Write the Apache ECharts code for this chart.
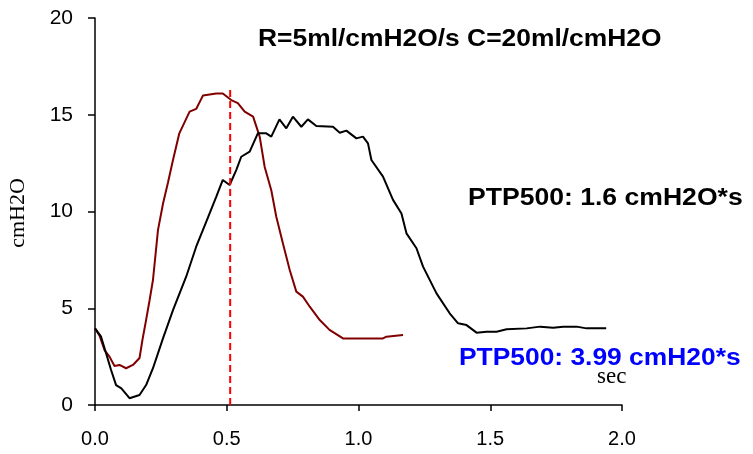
<!DOCTYPE html>
<html>
<head>
<meta charset="utf-8">
<script src="https://cdn.jsdelivr.net/npm/echarts@6/dist/echarts.min.js"></script>
<style>
html,body{margin:0;padding:0;background:#fff;}
#chart{width:753px;height:454px;}
</style>
</head>
<body>
<div id="chart"></div>
<script>
// pressure curves (sec, cmH2O)
var redTime=[0,0.017,0.036,0.055,0.074,0.093,0.118,0.144,0.169,0.18,0.194,0.207,0.22,0.239,0.258,0.277,0.296,0.32,0.359,0.384,0.41,0.46,0.485,0.517,0.542,0.568,0.6,0.625,0.644,0.669,0.688,0.713,0.739,0.764,0.789,0.815,0.853,0.89,0.941,1.005,1.093,1.106,1.169];
var redVal=[3.96,3.6,2.84,2.5,2.02,2.07,1.9,2.07,2.43,3.36,4.4,5.4,6.46,9.04,10.4,11.5,12.66,14.04,15.16,15.3,16.0,16.1,16.1,15.76,15.6,15.16,14.9,13.87,12.3,11.1,9.73,8.36,6.98,5.86,5.6,5.08,4.39,3.88,3.44,3.44,3.44,3.53,3.62];

var blackTime=[0,0.023,0.042,0.061,0.08,0.1,0.131,0.169,0.194,0.22,0.258,0.296,0.346,0.384,0.422,0.46,0.485,0.511,0.536,0.555,0.587,0.618,0.65,0.669,0.7,0.726,0.751,0.783,0.808,0.84,0.903,0.929,0.954,0.992,1.017,1.036,1.049,1.093,1.131,1.163,1.182,1.22,1.245,1.296,1.346,1.378,1.41,1.448,1.486,1.524,1.562,1.638,1.689,1.739,1.777,1.828,1.865,1.94];
var blackVal=[3.96,3.53,2.67,1.81,1.03,0.86,0.35,0.52,1.03,1.9,3.44,4.9,6.63,8.18,9.47,10.76,11.63,11.37,12.14,12.83,13.09,14.04,14.04,13.87,14.76,14.3,14.9,14.38,14.76,14.42,14.38,14.07,14.18,13.78,13.87,13.52,12.66,11.8,10.6,9.9,8.87,8.1,7.15,5.77,4.74,4.22,4.13,3.74,3.79,3.79,3.91,3.96,4.05,3.99,4.05,4.05,3.96,3.96];

// dashed marker at 0.5 s
var markTime=[0.513,0.513];
var markVal=[0,16.4];

var xTicks=[0,0.5,1,1.5,2];
var yTicks=[0,5,10,15,20];

function pairs(xs,ys){
	var out=[];
	for(var i=0;i<xs.length;i++){
		out.push([xs[i],ys[i]]);
	}
	return out;
}

var myChart=echarts.init(document.getElementById('chart'));
var option={
	animation:false,
	backgroundColor:'#fff',
	grid:{left:95,right:131,top:18,bottom:49,containLabel:false},
	xAxis:{
		type:'value',
		min:xTicks[0],
		max:xTicks[xTicks.length-1],
		interval:0.5,
		axisLine:{lineStyle:{color:'#000',width:1.5}},
		axisTick:{show:true,length:6,lineStyle:{color:'#000',width:1.5}},
		axisLabel:{color:'#000',fontFamily:'Liberation Sans',fontSize:20,margin:24,
			formatter:function(v){return v.toFixed(1);}},
		splitLine:{show:false}
	},
	yAxis:{
		type:'value',
		min:yTicks[0],
		max:yTicks[yTicks.length-1],
		interval:5,
		axisLine:{show:true,lineStyle:{color:'#000',width:1.5}},
		axisTick:{show:true,length:7,lineStyle:{color:'#000',width:1.5}},
		axisLabel:{color:'#000',fontFamily:'Liberation Sans',fontSize:21,margin:22},
		splitLine:{show:false}
	},
	series:[
		{
			type:'line',
			data:pairs(redTime,redVal),
			showSymbol:false,
			lineStyle:{color:'#800000',width:2},
			z:3
		},
		{
			type:'line',
			data:pairs(blackTime,blackVal),
			showSymbol:false,
			lineStyle:{color:'#000',width:2},
			z:4
		},
		{
			type:'line',
			data:pairs(markTime,markVal),
			showSymbol:false,
			lineStyle:{color:'#ff0000',width:2,type:[7,4]},
			z:5
		}
	],
	graphic:[
		{type:'text',x:258,y:39,scaleX:1.1,style:{text:'R=5ml/cmH2O/s C=20ml/cmH2O',fill:'#000',font:'bold 24px "Liberation Sans"',align:'left',verticalAlign:'middle'}},
		{type:'text',x:468,y:198.5,scaleX:1.155,style:{text:'PTP500: 1.6 cmH2O*s',fill:'#000',font:'bold 23px "Liberation Sans"',align:'left',verticalAlign:'middle'}},
		{type:'text',x:459,y:358.5,scaleX:1.147,style:{text:'PTP500: 3.99 cmH20*s',fill:'#0000ff',font:'bold 23px "Liberation Sans"',align:'left',verticalAlign:'middle'}},
		{type:'text',x:597,y:377,style:{text:'sec',fill:'#000',font:'23px "Liberation Serif"',align:'left',verticalAlign:'middle'}},
		{type:'text',x:18,y:213,rotation:Math.PI/2,style:{text:'cmH2O',fill:'#000',font:'22px "Liberation Serif"',align:'center',verticalAlign:'middle'}}
	]
};
myChart.setOption(option);
</script>
</body>
</html>
